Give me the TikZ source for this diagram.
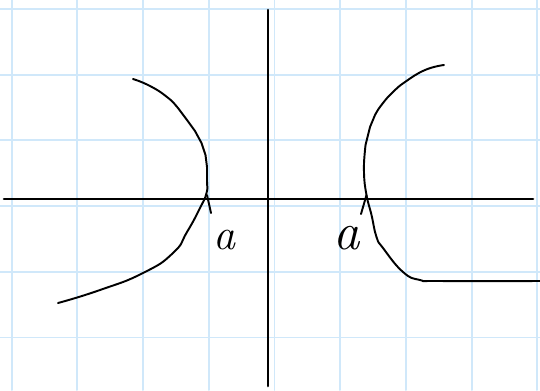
\documentclass[tikz,border=0pt]{standalone}
\usetikzlibrary{
  calc,      % 坐标计算
  positioning % 节点相对定位
}
\definecolor{gridblue}{RGB}{208,232,250}

\begin{document}
\begin{tikzpicture}[x=0.02cm, y=-0.02cm, line cap=round, line join=round] % 以像素为单位：x 向右，y 向下
  \useasboundingbox (0,0) rectangle (540,390); % 固定画面大小
  % 方格纸背景
  \foreach \gx in {11.7,77.4,...,540} {\draw[gridblue, line width=1.1pt] (\gx,0) -- (\gx,390);} % 竖直网格线
  \foreach \gy in {9,74.7,...,390} {\draw[gridblue, line width=1.1pt] (0,\gy) -- (540,\gy);} % 水平网格线

  % 坐标轴
  \coordinate (O) at (268,199); % 原点
  \coordinate (xL) at (4,199); % 横轴左端
  \coordinate (xR) at (533,199); % 横轴右端
  \coordinate (yT) at (268,10); % 纵轴上端
  \coordinate (yB) at (268,386); % 纵轴下端
  \draw[line width=1.5pt] (xL) -- (xR); % 横轴
  \draw[line width=1.5pt] (yT) -- (yB); % 纵轴

  % 左侧曲线
  \begin{scope}[line width=1.1pt]
    \draw plot[smooth, tension=0.9] coordinates {(133,79) (150,86) (167,97) (178,108) (187,120) (195,131) (201.5,143) (205.5,155) (207,167) (207,181) (206.5,193) (200,208) (187,232) (173,253) (143,273) (100,290) (58,303)}; % 左支
    \coordinate (tL1) at (207,195); % 左交点
    \coordinate (tL2) at (211,213); % 小刻线末端
    \draw (tL1) -- (tL2); % 交点处小刻线
    \node[font=\itshape\fontsize{25}{25}\selectfont, inner sep=0pt] (aL) at (224,240) {a}; % 左侧标注
  \end{scope}

  % 右侧曲线
  \begin{scope}[line width=1.1pt]
    \draw plot[smooth, tension=0.8] coordinates {(444,65) (425,70) (405,82) (393,92) (383,103) (375,115) (370,127) (367,139) (365,150) (364,173) (366.5,195) (371.5,215) (376.5,237) (383,248) (403,272) (420,280) (440,281) (540,281)}; % 右支
    \coordinate (tR1) at (366.5,195); % 右交点
    \coordinate (tR2) at (361,214); % 小刻线末端
    \draw (tR1) -- (tR2); % 交点处小刻线
    \node[font=\itshape\fontsize{30}{30}\selectfont, inner sep=0pt] (aR) at (347,238) {a}; % 右侧标注
  \end{scope}
\end{tikzpicture}
\end{document}
